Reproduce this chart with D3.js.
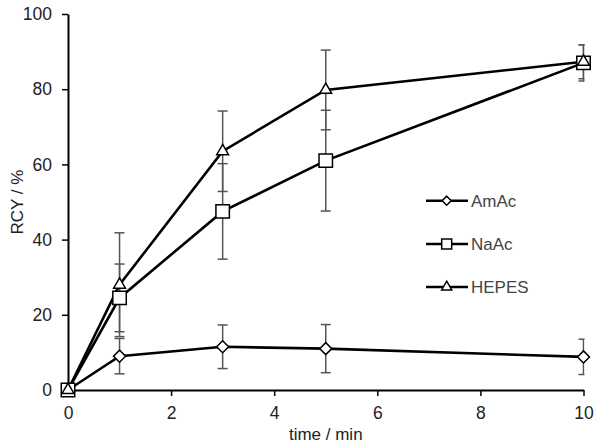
<!DOCTYPE html>
<html><head><meta charset="utf-8">
<script src="https://cdn.jsdelivr.net/npm/d3@7"></script>
<style>body{margin:0;background:#fff;}svg{display:block;font-family:"Liberation Sans",Arial,sans-serif;}</style>
</head><body>
<svg id="c" width="600" height="446"></svg>
<script>
const times = [0, 1, 3, 5, 10];
const seriesNames = ["AmAc", "NaAc", "HEPES"];
const amacValues = [0, 9, 11.5, 11, 8.8];
const amacErrors = [0, 4.7, 5.8, 6.4, 4.7];
const naacValues = [0, 24.5, 47.5, 61, 87];
const naacErrors = [0, 9, 12.7, 13.4, 4.8];
const hepesValues = [0, 28, 63.5, 79.8, 87.3];
const hepesErrors = [0, 13.8, 10.7, 10.6, 4.5];
const xTicks = [0, 2, 4, 6, 8, 10];
const yTicks = [0, 20, 40, 60, 80, 100];

const svg = d3.select("#c");
const L = 68, R = 583.5, T = 14, B = 390;
const x = d3.scaleLinear().domain([0, 10]).range([L, R]);
const y = d3.scaleLinear().domain([0, 100]).range([B, T]);

const series = [
  {name: seriesNames[0], v: amacValues, e: amacErrors, sym: d3.symbolDiamond2, size: 92, lsize: 52},
  {name: seriesNames[1], v: naacValues, e: naacErrors, sym: d3.symbolSquare2, size: 230, lsize: 127},
  {name: seriesNames[2], v: hepesValues, e: hepesErrors, sym: d3.symbolTriangle2, size: 100, lsize: 72}
];

// axes
const xa = svg.append("g").attr("transform", `translate(0,${B})`)
  .call(d3.axisBottom(x).tickValues(xTicks).tickSize(6).tickSizeOuter(0).tickPadding(11));
const ya = svg.append("g").attr("transform", `translate(${L},0)`)
  .call(d3.axisLeft(y).tickValues(yTicks).tickSize(6).tickSizeOuter(0).tickPadding(10));
[xa, ya].forEach(a => {
  a.attr("font-size", null).attr("font-family", null);
  a.select(".domain").attr("stroke", "#000").attr("stroke-width", 2);
  a.selectAll(".tick line").attr("stroke", "#000").attr("stroke-width", 1.5);
  a.selectAll("text").attr("fill", "#222").style("font-size", "17.5px").style("font-family", "'Liberation Sans', Arial, sans-serif");
});

svg.append("text").attr("x", (L + R) / 2).attr("y", 440).attr("text-anchor", "middle")
  .style("font-size", "17px").attr("fill", "#222").text("time / min");
svg.append("text").attr("transform", `translate(23,${(T + B) / 2}) rotate(-90)`).attr("text-anchor", "middle")
  .style("font-size", "17px").attr("fill", "#222").text("RCY / %");

// clip for error bars
svg.append("clipPath").attr("id", "clip").append("rect").attr("x", 0).attr("y", 0).attr("width", R + 1).attr("height", 446);

const eg = svg.append("g").attr("clip-path", "url(#clip)");
series.forEach(s => {
  times.forEach((t, i) => {
    if (!s.e[i]) return;
    const cx = x(t), y1 = y(s.v[i] + s.e[i]), y0 = y(s.v[i] - s.e[i]);
    eg.append("line").attr("x1", cx).attr("x2", cx).attr("y1", y1).attr("y2", y0).attr("stroke", "#555").attr("stroke-width", 1.5);
    [y1, y0].forEach(yy => eg.append("line").attr("x1", cx - 5).attr("x2", cx + 5).attr("y1", yy).attr("y2", yy).attr("stroke", "#555").attr("stroke-width", 1.5));
  });
});

const line = d3.line().x((d, i) => x(times[i])).y(d => y(d));
series.forEach(s => {
  svg.append("path").attr("d", line(s.v)).attr("fill", "none").attr("stroke", "#000").attr("stroke-width", 2.6);
});
series.forEach(s => {
  times.forEach((t, i) => {
    svg.append("path").attr("d", d3.symbol(s.sym, s.size)()).attr("transform", `translate(${x(t)},${y(s.v[i])})`)
      .attr("fill", "#fff").attr("stroke", "#000").attr("stroke-width", 1.5);
  });
});

// legend
const legY = [200.7, 244, 287];
series.forEach((s, k) => {
  const g = svg.append("g").attr("transform", `translate(0,${legY[k]})`);
  g.append("line").attr("x1", 426).attr("x2", 468).attr("y1", 0).attr("y2", 0).attr("stroke", "#000").attr("stroke-width", 2.6);
  g.append("path").attr("d", d3.symbol(s.sym, s.lsize)()).attr("transform", "translate(446.7,0)").attr("fill", "#fff").attr("stroke", "#000").attr("stroke-width", 1.5);
  g.append("text").attr("x", 471).attr("y", 0).attr("dy", "0.36em").style("font-size", "17px").attr("fill", "#444").text(s.name);
});
</script>
</body></html>
